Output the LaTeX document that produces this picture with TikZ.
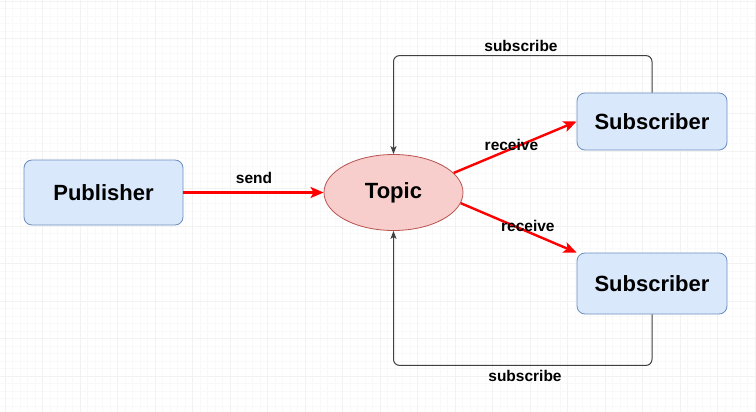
\documentclass[tikz,border=0pt]{standalone}
\usepackage{fontspec}
\setmainfont{Liberation Sans}
\usetikzlibrary{arrows.meta, shapes.geometric}
\definecolor{boxblue}{HTML}{DAE8FC}
\definecolor{boxblueline}{HTML}{6C8EBF}
\definecolor{topicred}{HTML}{F8CECC}
\definecolor{topicredline}{HTML}{B85450}
\definecolor{linkgray}{HTML}{404040}
\begin{document}
\begin{tikzpicture}[x=1pt, y=-1pt,
    every node/.style={font=\bfseries},
    client/.style={draw=boxblueline, fill=boxblue, rounded corners=8pt, line width=0.8pt,
      font=\bfseries\fontsize{22}{26}\selectfont, inner sep=0pt},
    topicnode/.style={ellipse, draw=topicredline, fill=topicred, line width=0.8pt,
      minimum width=139pt, minimum height=76pt, inner sep=0pt,
      font=\bfseries\fontsize{22}{26}\selectfont},
    msgline/.style={red, line width=2.4pt, -{Stealth[length=13pt, width=11pt, inset=3pt]}},
    subline/.style={linkgray, line width=1pt, rounded corners=6pt, -{Stealth[length=8pt, width=6pt, inset=2pt]}},
    lbl/.style={text=black, font=\bfseries\fontsize{15.5}{18}\selectfont, inner sep=1pt}]
  \useasboundingbox (0,0) rectangle (756,412);

  % background grid
  \fill[white] (0,0) rectangle (756,412);
  \foreach \x in {-2.5,5,...,756} {
    \draw[gray!5, line width=0.4pt] (\x,0) -- (\x,412);
  }
  \foreach \y in {0.8,8.3,...,412} {
    \draw[gray!5, line width=0.4pt] (0,\y) -- (756,\y);
  }
  \foreach \x in {5,42.5,...,756} {
    \draw[gray!10, line width=0.5pt] (\x,0) -- (\x,412);
  }
  \foreach \y in {0.8,38.3,...,412} {
    \draw[gray!10, line width=0.5pt] (0,\y) -- (756,\y);
  }

  % nodes
  \node[client, minimum width=159pt, minimum height=65pt] (pub) at (103.5,192.5) {Publisher};
  \node[topicnode] (topic) at (393.5,192.5) {Topic};
  \node[client, minimum width=150pt, minimum height=57pt] (sub1) at (652,121.5) {Subscriber};
  \node[client, minimum width=150pt, minimum height=61pt] (sub2) at (652,283.5) {Subscriber};

  % messages
  \draw[msgline] (pub.east) -- (topic.west);
  \node[lbl] (send) at (254,178) {send};
  \draw[msgline] (topic.18) -- node[lbl, pos=0.47, yshift=4pt] (recv1) {receive} (sub1.west);
  \draw[msgline] (topic.-9) -- node[lbl, pos=0.58, yshift=6pt] (recv2) {receive} (sub2.north west);

  % subscriptions
  \draw[subline] (sub1.north) -- ++(0,-37) -| (topic.north);
  \node[lbl] (subs1) at (521,46) {subscribe};
  \draw[subline] (sub2.south) -- ++(0,51) -| (topic.south);
  \node[lbl] (subs2) at (525,376) {subscribe};
\end{tikzpicture}
\end{document}
